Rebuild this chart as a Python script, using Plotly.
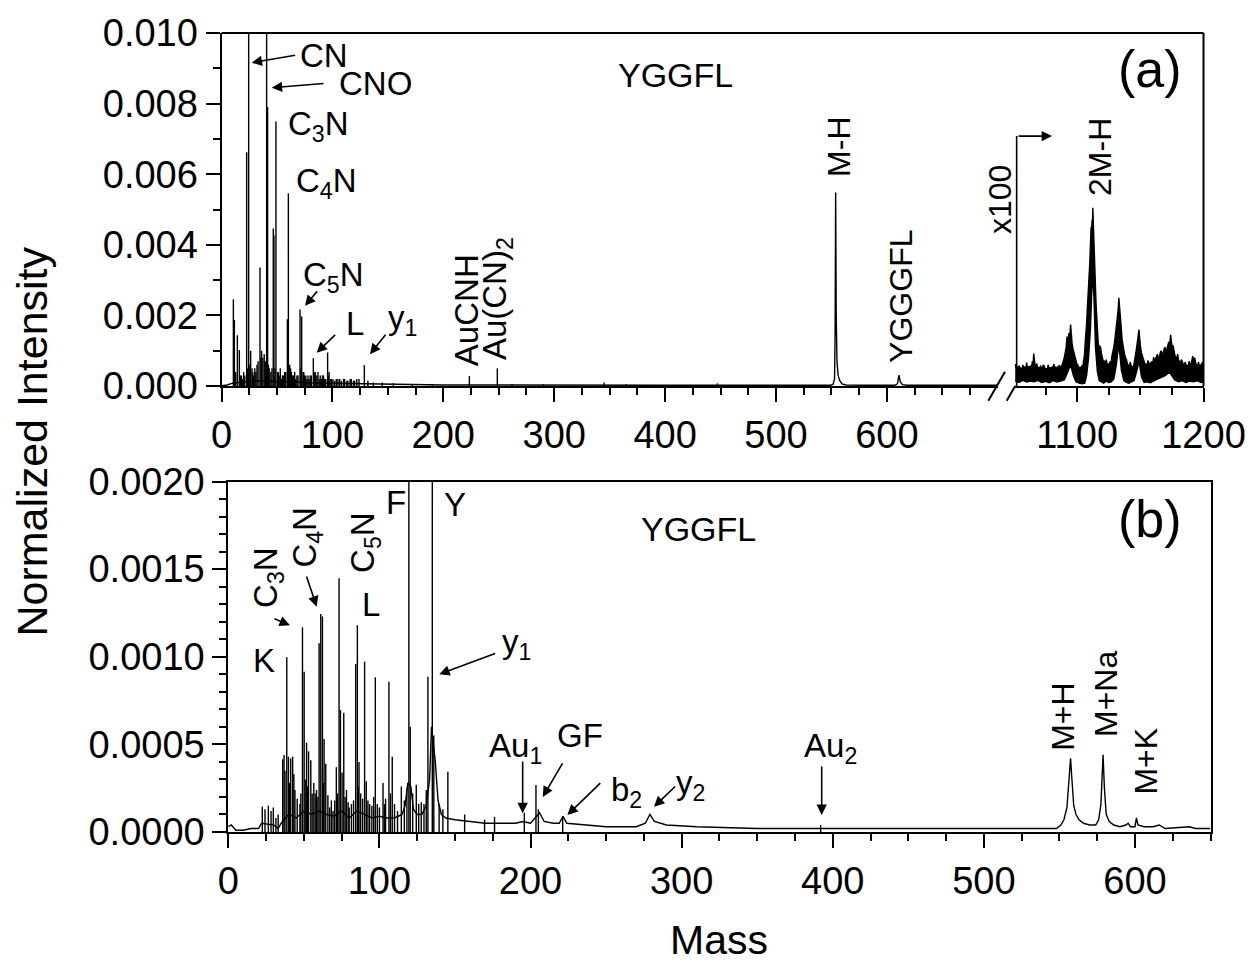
import plotly.graph_objects as go

FONT = "Liberation Sans, Arial, sans-serif"
W, H = 1255, 965

# ---------------- panel (a): negative ions ----------------
# discrete peaks (mass, normalized intensity)
a_peak_mass = [10.7, 11.6, 12.8, 14.3, 16.1, 17.2, 19.0, 21.0, 22.7, 24.5,
               26.3, 27.5, 29.0, 31.0, 33.0, 34.7, 36.2, 37.3, 38.5, 39.5,
               40.7, 41.6, 43.0, 44.5, 46.7, 47.3, 49.1, 50.5, 52.0, 54.0,
               56.0, 58.0, 59.4, 60.3, 61.5, 63.0, 65.0, 67.0, 69.0, 70.8,
               72.3, 73.5, 75.0, 77.0, 79.0, 81.0, 82.8, 84.5, 86.0, 88.0,
               90.0, 92.0, 94.0, 95.7, 97.0, 99.0, 102.0, 105.0, 108.0, 111.0,
               114.0, 117.0, 120.0, 124.0, 128.8, 132.0, 137.0, 145.0, 155.0, 172.0,
               190.0, 223.5, 248.7, 262.0, 290.0, 345.0, 365.0, 447.0]
a_peak_int = [0.00246, 0.00187, 0.0004, 0.00144, 0.00102, 0.0003, 0.0002, 0.0003, 0.00662, 0.02,
              0.00100, 0.0005, 0.0003, 0.0004, 0.0007, 0.00336, 0.0010, 0.0008, 0.0009, 0.0007,
              0.02, 0.0079, 0.0005, 0.0004, 0.00446, 0.00427, 0.00749, 0.0004, 0.0003, 0.0002,
              0.0003, 0.0004, 0.00189, 0.00546, 0.0006, 0.0004, 0.0003, 0.0002, 0.0003, 0.00217,
              0.00197, 0.0004, 0.0003, 0.0002, 0.0002, 0.0003, 0.00079, 0.0004, 0.0003, 0.0002,
              0.0002, 0.0003, 0.0002, 0.00095, 0.0004, 0.0002, 0.00015, 0.0002, 0.00015, 0.0002,
              0.00015, 0.0002, 0.00015, 0.0002, 0.00059, 0.00015, 0.0001, 0.0001, 0.00008, 0.00006,
              0.00006, 0.00028, 0.00050, 0.00006, 0.00005, 0.0001, 0.00006, 0.00008]
# low-level clutter below m/z 140
a_grass_mass = [18.0, 20.0, 23.5, 25.5, 28.2, 30.0, 32.0, 35.5, 42.3, 45.5,
                48.2, 51.2, 53.0, 55.0, 57.0, 62.3, 64.0, 66.0, 68.0, 71.5,
                74.2, 76.0, 78.0, 80.0, 83.6, 85.2, 87.0, 89.0, 91.0, 93.0,
                96.4, 98.0, 100.5, 103.5, 106.5, 110.0, 113.0, 116.0, 119.0, 122.0]
a_grass_int = [0.0003, 0.0004, 0.0005, 0.0006, 0.0004, 0.0005, 0.0006, 0.0008, 0.0006, 0.0005,
               0.0005, 0.0004, 0.0005, 0.0003, 0.0004, 0.0005, 0.0003, 0.0004, 0.0003, 0.0005,
               0.0004, 0.0003, 0.0003, 0.0003, 0.0004, 0.0003, 0.0004, 0.0003, 0.0003, 0.0002,
               0.0003, 0.0002, 0.0002, 0.0002, 0.0002, 0.0002, 0.00015, 0.0002, 0.00015, 0.0002]

# continuous profile (baseline, M-H and YGGGFL)
a_prof_mass = [0, 5, 10, 20, 30, 40, 50, 60, 70, 80,
               90, 100, 115, 130, 150, 175, 200, 250, 300, 400,
               500, 549, 551.5, 552.8, 553.3, 553.8, 554.3, 555, 556, 557.5,
               559.5, 563, 580, 607, 609.5, 610.9, 612, 614, 618, 650,
               672, 700]
a_prof_int = [0.00001, 0.00003, 0.00008, 0.00012, 0.00015, 0.00015, 0.00012, 0.00012, 0.0001, 0.0001,
              0.00008, 0.00008, 0.00007, 0.00006, 0.00005, 0.00004, 0.00003, 0.00003, 0.00002, 0.00002,
              0.00002, 0.00002, 0.00005, 0.0002, 0.0015, 0.00548, 0.002, 0.0007, 0.0003, 0.00015,
              0.00006, 0.00003, 0.00002, 0.00002, 0.00006, 0.00031, 0.00012, 0.00004, 0.00002, 0.00002,
              0.00004, 0.00002]

# high-mass window, shown x100: upper and lower edges of the noisy trace
hi_up_mass = [1051, 1051.8, 1052.5, 1053.3, 1054, 1054.8, 1055.5, 1056.3, 1057, 1057.8,
              1058.5, 1059.3, 1060, 1060.8, 1061.5, 1062.3, 1063, 1063.8, 1064.5, 1065.1,
              1065.6, 1066.2, 1066.8, 1067.4, 1068, 1068.8, 1069.5, 1070.3, 1071, 1071.8,
              1072.5, 1073.3, 1074, 1074.8, 1075.5, 1076.3, 1077, 1077.8, 1078.5, 1079.3,
              1080, 1080.8, 1081.5, 1082.3, 1083, 1083.8, 1084.5, 1085.3, 1086, 1086.8,
              1087.5, 1088.3, 1089, 1089.8, 1090.5, 1091.3, 1092, 1092.8, 1093.5, 1094.2,
              1094.8, 1095.4, 1096, 1096.7, 1097.4, 1098.2, 1099, 1099.8, 1100.5, 1101.3,
              1102, 1102.8, 1103.5, 1104.3, 1105, 1105.7, 1106.3, 1107, 1107.5, 1108.2,
              1108.8, 1109.4, 1110, 1110.5, 1111, 1111.4, 1111.8, 1112.1, 1112.4, 1112.8,
              1113.2, 1113.6, 1114, 1114.5, 1115, 1115.5, 1116, 1116.5, 1117, 1117.8,
              1118.6, 1119.3, 1120, 1120.8, 1121.5, 1122.3, 1123, 1123.8, 1124.5, 1125.3,
              1126, 1126.8, 1127.5, 1128.3, 1129, 1129.8, 1130.5, 1131.2, 1131.8, 1132.4,
              1133, 1133.5, 1134, 1134.5, 1135, 1135.6, 1136.3, 1136.9, 1137.5, 1138.3,
              1139, 1139.8, 1140.5, 1141.3, 1142, 1142.8, 1143.5, 1144.3, 1145, 1145.8,
              1146.5, 1147.2, 1147.8, 1148.4, 1148.9, 1149.5, 1150, 1150.8, 1151.5, 1152.3,
              1153, 1153.8, 1154.5, 1155.3, 1156, 1156.8, 1157.5, 1158.3, 1159, 1159.8,
              1160.5, 1161.3, 1162, 1162.8, 1163.5, 1164.3, 1165, 1165.8, 1166.5, 1167.3,
              1168, 1168.8, 1169.5, 1170.3, 1171, 1171.8, 1172.5, 1173.3, 1174, 1174.6,
              1175.3, 1175.9, 1176.5, 1177.3, 1178, 1178.8, 1179.5, 1180.3, 1181, 1181.8,
              1182.5, 1183.3, 1184, 1184.8, 1185.5, 1186.3, 1187, 1187.8, 1188.5, 1189.3,
              1190, 1190.8, 1191.5, 1192.3, 1193, 1193.8, 1194.5, 1195.3, 1196, 1196.8,
              1197.5, 1198.3, 1199, 1200]
hi_up_x100 = [0.00062, 0.00050, 0.00056, 0.00042, 0.00058, 0.00047, 0.00052, 0.00040, 0.00060, 0.00049,
              0.00055, 0.00044, 0.00066, 0.00050, 0.00056, 0.00046, 0.00058, 0.00050, 0.00070, 0.00060,
              0.00092, 0.00062, 0.00055, 0.00048, 0.00064, 0.00050, 0.00054, 0.00044, 0.00058, 0.00046,
              0.00052, 0.00060, 0.00056, 0.00045, 0.00050, 0.00042, 0.00060, 0.00048, 0.00053, 0.00046,
              0.00055, 0.00048, 0.00062, 0.00050, 0.00054, 0.00045, 0.00056, 0.00048, 0.00060, 0.00050,
              0.00054, 0.00060, 0.00070, 0.00080, 0.00095, 0.00110, 0.00140, 0.00130, 0.00150, 0.00145,
              0.00174, 0.00140, 0.00120, 0.00105, 0.00095, 0.00080, 0.00072, 0.00062, 0.00060, 0.00050,
              0.00054, 0.00046, 0.00058, 0.00050, 0.00070, 0.00085, 0.00120, 0.00150, 0.00180, 0.00230,
              0.00290, 0.00310, 0.00350, 0.00400, 0.00450, 0.00440, 0.00470, 0.00460, 0.00505, 0.00470,
              0.00440, 0.00400, 0.00320, 0.00280, 0.00230, 0.00190, 0.00150, 0.00120, 0.00100, 0.00115,
              0.00108, 0.00090, 0.00080, 0.00068, 0.00070, 0.00058, 0.00075, 0.00060, 0.00062, 0.00055,
              0.00070, 0.00062, 0.00085, 0.00095, 0.00110, 0.00130, 0.00150, 0.00175, 0.00200, 0.00215,
              0.00250, 0.00220, 0.00195, 0.00175, 0.00160, 0.00130, 0.00110, 0.00100, 0.00090, 0.00080,
              0.00075, 0.00062, 0.00060, 0.00052, 0.00068, 0.00056, 0.00055, 0.00048, 0.00070, 0.00080,
              0.00095, 0.00110, 0.00130, 0.00145, 0.00160, 0.00130, 0.00115, 0.00095, 0.00085, 0.00075,
              0.00070, 0.00060, 0.00062, 0.00054, 0.00072, 0.00060, 0.00058, 0.00066, 0.00068, 0.00060,
              0.00082, 0.00070, 0.00075, 0.00085, 0.00090, 0.00078, 0.00080, 0.00095, 0.00100, 0.00088,
              0.00092, 0.00105, 0.00110, 0.00095, 0.00105, 0.00115, 0.00125, 0.00120, 0.00145, 0.00125,
              0.00110, 0.00115, 0.00100, 0.00088, 0.00082, 0.00076, 0.00090, 0.00072, 0.00070, 0.00062,
              0.00075, 0.00064, 0.00062, 0.00056, 0.00068, 0.00058, 0.00058, 0.00052, 0.00070, 0.00060,
              0.00062, 0.00072, 0.00085, 0.00068, 0.00080, 0.00066, 0.00060, 0.00054, 0.00068, 0.00056,
              0.00058, 0.00064, 0.00066, 0.00060]
hi_lo_mass = [1051, 1054, 1057, 1060, 1063, 1066, 1069, 1072, 1075, 1078,
              1081, 1084, 1087, 1090, 1092.5, 1094.8, 1097, 1099, 1101.5, 1104,
              1106, 1107.5, 1109, 1110.5, 1111.5, 1112.4, 1113.3, 1114.5, 1116, 1117.5,
              1119, 1121, 1123, 1125, 1127, 1129, 1131, 1133, 1135, 1137,
              1139, 1141, 1143, 1145, 1147, 1149, 1151, 1153, 1155, 1158,
              1161, 1164, 1167, 1170, 1173, 1175, 1177, 1180, 1183, 1186,
              1189, 1192, 1195, 1198, 1200]
hi_lo_x100 = [0.00014, 0.00010, 0.00016, 0.00011, 0.00014, 0.00012, 0.00016, 0.00010, 0.00013, 0.00009,
              0.00015, 0.00011, 0.00014, 0.00018, 0.00040, 0.00060, 0.00030, 0.00012, 0.00008, 0.00006,
              0.00008, 0.00030, 0.00080, 0.00160, 0.00260, 0.00320, 0.00250, 0.00110, 0.00040, 0.00015,
              0.00012, 0.00008, 0.00014, 0.00010, 0.00012, 0.00020, 0.00060, 0.00120, 0.00045, 0.00015,
              0.00010, 0.00008, 0.00012, 0.00015, 0.00040, 0.00070, 0.00025, 0.00010, 0.00012, 0.00009,
              0.00015, 0.00020, 0.00025, 0.00030, 0.00040, 0.00030, 0.00018, 0.00012, 0.00015, 0.00010,
              0.00014, 0.00012, 0.00015, 0.00010, 0.00012]

# ---------------- panel (b): positive ions ----------------
b_peak_mass = [22.5, 24.3, 26.5, 28.3, 29.8, 36.0, 36.9, 38.7, 39.8, 41.3,
               42.6, 44.1, 47.4, 49.1, 50.2, 51.8, 53.1, 54.6, 56.6, 58.4,
               60.1, 61.2, 62.3, 63.4, 64.5, 67.1, 69.3, 71.5, 73.3, 74.2,
               75.3, 76.4, 78.2, 81.5, 84.3, 85.4, 86.5, 87.6, 90.2, 91.3,
               93.5, 97.3, 98.6, 102.4, 104.1, 106.3, 108.5, 110.0, 114.5, 119.5,
               120.4, 124.4, 127.7, 132.1, 135.0, 136.0, 145.3, 156.4, 169.6, 176.2,
               195.9, 203.6, 205.2, 221.3, 392.0]
b_peak_int = [0.000145, 0.00013, 0.00015, 0.00012, 0.00014, 0.000415, 0.00044, 0.000997, 0.00043, 0.00042,
              0.00043, 0.00024, 0.00016, 0.001168, 0.000915, 0.00051, 0.00046, 0.00041, 0.00028, 0.00024,
              0.001077, 0.001244, 0.00123, 0.00053, 0.00039, 0.00014, 0.00012, 0.00037, 0.001448, 0.000696,
              0.00034, 0.00068, 0.00024, 0.00016, 0.000959, 0.00118, 0.0004, 0.00022, 0.000972, 0.00029,
              0.00016, 0.000883, 0.00016, 0.00028, 0.00019, 0.000858, 0.00043, 0.00016, 0.00026, 0.004,
              0.0006, 0.00027, 0.00017, 0.000886, 0.004, 0.00055, 0.000344, 0.0001, 0.00007, 0.000087,
              0.00011, 0.000268, 0.00013, 0.000087, 0.00004]
# low-level fragments filling the 20-140 region
b_grass_mass = [31.5, 33.0, 37.5, 40.5, 43.4, 45.6, 48.0, 50.9, 52.4, 55.5,
                57.5, 59.3, 63.0, 65.9, 68.2, 70.4, 72.4, 77.3, 79.3, 80.0,
                82.9, 86.0, 88.9, 92.4, 95.0, 96.2, 100.0, 103.3, 107.3, 112.0,
                116.5, 118.2, 122.0, 126.0, 129.5, 131.0, 139.5, 142.0]
b_grass_int = [0.00008, 0.0001, 0.00035, 0.00028, 0.00033, 0.00019, 0.00022, 0.0003, 0.00026, 0.00022,
               0.00022, 0.0002, 0.00028, 0.00021, 0.00018, 0.00018, 0.00022, 0.0002, 0.00017, 0.00014,
               0.00018, 0.00026, 0.00019, 0.00018, 0.00015, 0.0002, 0.00014, 0.00016, 0.00022, 0.00012,
               0.00018, 0.00025, 0.00022, 0.00016, 0.00016, 0.00024, 0.00016, 0.00013]

b_prof_mass = [0, 2, 5, 10, 15, 20, 22, 30, 33, 35,
               40, 45, 50, 55, 60, 65, 70, 75, 80, 85,
               90, 95, 100, 105, 110, 115, 117, 118.8, 120.8, 122.5,
               125, 128, 131, 133.2, 134.5, 137, 138.8, 141, 144, 150,
               160, 170, 180, 190, 195, 200, 203, 206, 209, 215,
               219, 221.5, 224, 235, 250, 270, 276, 279, 282, 290,
               310, 350, 390, 394, 450, 500, 540, 548, 551, 553,
               555, 556.5, 557.4, 558.3, 559.5, 561, 563, 566, 570, 574,
               576, 577.5, 578.9, 579.8, 581, 583, 586, 590, 594, 595.5,
               597, 600, 601, 602, 606, 612, 616, 620, 636, 640,
               650]
b_prof_int = [0.00003, 0.00004, 0.00001, 0.00001, 0.00002, 0.00002, 0.00005, 0.00004, 0.00002, 0.00005,
              0.0001, 0.00008, 0.00012, 0.0001, 0.00012, 0.0001, 0.00009, 0.00012, 0.00008, 0.00012,
              0.0001, 0.00008, 0.00009, 0.00008, 0.00008, 0.0001, 0.00015, 0.00028, 0.00026, 0.00013,
              0.0001, 0.0001, 0.00015, 0.0003, 0.0006, 0.0004, 0.00018, 0.0001, 0.00008, 0.00007,
              0.00006, 0.00005, 0.00005, 0.00005, 0.00006, 0.00005, 0.00008, 0.00011, 0.00006, 0.00005,
              0.00005, 0.00009, 0.00005, 0.00004, 0.00003, 0.00003, 0.00005, 0.0001, 0.00006, 0.00004,
              0.00003, 0.00002, 0.00002, 0.00002, 0.00002, 0.00002, 0.00002, 0.00002, 0.00004, 0.00007,
              0.00014, 0.0003, 0.00042, 0.0003, 0.00015, 0.0001, 0.00007, 0.00005, 0.00004, 0.00004,
              0.00007, 0.00016, 0.00044, 0.00025, 0.0001, 0.00006, 0.00004, 0.00003, 0.00004, 0.00005,
              0.00003, 0.00003, 0.00008, 0.00004, 0.00003, 0.00003, 0.00004, 0.00002, 0.00003, 0.00002,
              0.00002]

a_yticks = [0.0, 0.002, 0.004, 0.006, 0.008, 0.010]
b_yticks = [0.0, 0.0005, 0.0010, 0.0015, 0.0020]
mass_ticks = [0, 100, 200, 300, 400, 500, 600]


def px(x):
    return x / W


def py(y):
    return 1 - y / H


def sticks(masses, heights):
    xs, ys = [], []
    for m, h in zip(masses, heights):
        xs += [m, m, None]
        ys += [0, h, None]
    return xs, ys


LINE = dict(color="black", width=1.4)
fig = go.Figure()

for mm, ii in ((a_peak_mass, a_peak_int), (a_grass_mass, a_grass_int)):
    xs, ys = sticks(mm, ii)
    fig.add_trace(go.Scatter(x=xs, y=ys, mode="lines", line=LINE, xaxis="x", yaxis="y"))
fig.add_trace(go.Scatter(x=a_prof_mass, y=a_prof_int, mode="lines", line=LINE, xaxis="x", yaxis="y"))
fig.add_trace(go.Scatter(x=hi_lo_mass, y=hi_lo_x100, mode="lines", line=LINE, xaxis="x2", yaxis="y"))
fig.add_trace(go.Scatter(x=hi_up_mass, y=hi_up_x100, mode="lines", line=LINE, fill="tonexty",
                         fillcolor="black", xaxis="x2", yaxis="y"))

for mm, ii in ((b_peak_mass, b_peak_int), (b_grass_mass, b_grass_int)):
    xs, ys = sticks(mm, ii)
    fig.add_trace(go.Scatter(x=xs, y=ys, mode="lines", line=LINE, xaxis="x3", yaxis="y2"))
fig.add_trace(go.Scatter(x=b_prof_mass, y=b_prof_int, mode="lines", line=LINE, xaxis="x3", yaxis="y2"))

TICKFONT = dict(family=FONT, size=38, color="black")


def axis_style(**kw):
    d = dict(showline=True, linecolor="black", linewidth=2, ticks="outside", ticklen=14,
             tickwidth=2, tickcolor="black", showgrid=False, zeroline=False,
             tickfont=TICKFONT, tickmode="array", automargin=False, fixedrange=True)
    d.update(kw)
    return d


def minor(vals):
    return dict(tickmode="array", tickvals=vals, ticks="outside", ticklen=7,
                tickwidth=2, tickcolor="black", showgrid=False)


a_minor_x = [v for v in range(25, 700, 25) if v % 100 != 0]
b_minor_x = [v for v in range(25, 651, 25) if v % 100 != 0]

fig.update_layout(
    width=W, height=H, margin=dict(l=0, r=0, t=0, b=0),
    paper_bgcolor="white", plot_bgcolor="white", showlegend=False,
    font=dict(family=FONT, color="black"),
    xaxis=axis_style(domain=[px(221.5), px(997.8)], range=[0, 700], anchor="y",
                     tickvals=mass_ticks, ticktext=[str(v) for v in mass_ticks],
                     minor=minor(a_minor_x)),
    xaxis2=axis_style(domain=[px(1014), px(1203.5)], range=[1050, 1200], anchor="y",
                      tickvals=[1100, 1200], ticktext=["1100", "1200"],
                      minor=minor([1075, 1125, 1150, 1175])),
    yaxis=axis_style(domain=[py(386), py(33)], range=[0, 0.010], anchor="x",
                     tickvals=a_yticks, ticktext=["%.3f" % v for v in a_yticks],
                     minor=minor([0.001, 0.003, 0.005, 0.007, 0.009])),
    xaxis3=axis_style(domain=[px(228.3), px(1210.5)], range=[0, 650], anchor="y2", mirror=True,
                      tickvals=mass_ticks, ticktext=[str(v) for v in mass_ticks],
                      minor=minor(b_minor_x)),
    yaxis2=axis_style(domain=[py(832), py(481.5)], range=[0, 0.0020], anchor="x3", mirror=True,
                      tickvals=b_yticks, ticktext=["%.4f" % v for v in b_yticks],
                      minor=minor([i * 0.0001 for i in range(1, 20) if i % 5 != 0])),
)

# frame of the broken panel and the axis-break marks
BL = dict(color="black", width=2)
fig.add_shape(type="line", xref="paper", yref="paper", x0=px(221.5), x1=px(1203.5),
              y0=py(33), y1=py(33), line=BL)
fig.add_shape(type="line", xref="paper", yref="paper", x0=px(1203.5), x1=px(1203.5),
              y0=py(33), y1=py(386), line=BL)
fig.add_shape(type="line", xref="paper", yref="paper", x0=px(988.3), x1=px(1005),
              y0=py(400.7), y1=py(371.7), line=BL)
fig.add_shape(type="line", xref="paper", yref="paper", x0=px(1006.7), x1=px(1015.3),
              y0=py(400.7), y1=py(385.7), line=BL)
# x100 marker
fig.add_shape(type="line", xref="x2", yref="y", x0=1052.1, x1=1052.1, y0=0, y1=0.00708,
              line=dict(color="black", width=1.6))

ann = []


def label(text, x, y, xref, yref, size=33, angle=0):
    ann.append(dict(text=text, x=x, y=y, xref=xref, yref=yref, showarrow=False,
                    textangle=angle, xanchor="center", yanchor="middle",
                    font=dict(family=FONT, size=size, color="black")))


def arrow(x, y, ax, ay, xref, yref):
    ann.append(dict(text="", x=x, y=y, ax=ax, ay=ay, xref=xref, yref=yref, showarrow=True,
                    arrowhead=2, arrowsize=1.3, arrowwidth=1.6, arrowcolor="black", standoff=0,
                    font=dict(family=FONT, size=10, color="black")))


# panel (a) labels
label("CN", 92, 0.00936, "x", "y")
arrow(27.2, 0.00916, 45, -7.7, "x", "y")
label("CNO", 138.9, 0.00856, "x", "y")
arrow(45.3, 0.00845, 53.3, -4.4, "x", "y")
label("C<sub>3</sub>N", 87.9, 0.00737, "x", "y")
label("C<sub>4</sub>N", 95.1, 0.00575, "x", "y")
label("C<sub>5</sub>N", 101.4, 0.00309, "x", "y")
arrow(75.3, 0.00227, 13.3, -16, "x", "y")
label("L", 120.4, 0.00178, "x", "y")
arrow(85.8, 0.00094, 20, -19.4, "x", "y")
label("y<sub>1</sub>", 162.8, 0.00187, "x", "y")
arrow(133.9, 0.0009, 16.7, -21, "x", "y")
label("AuCNH", 220.5, 0.00215, "x", "y", angle=-90)
label("Au(CN)<sub>2</sub>", 248.4, 0.00249, "x", "y", angle=-90)
label("YGGFL", 409.8, 0.00881, "x", "y", size=34)
label("M-H", 557.3, 0.00676, "x", "y", size=32, angle=-90)
label("YGGGFL", 613.2, 0.00254, "x", "y", size=32, angle=-90)
label("x100", px(1000), py(200), "paper", "paper", size=32, angle=-90)
label("2M-H", 1118.1, 0.00649, "x2", "y", size=32, angle=-90)
arrow(1080.1, 0.00708, -35, 0, "x2", "y")
label("(a)", px(1150), py(69), "paper", "paper", size=52)

# panel (b) labels
label("F", 111, 0.00188, "x3", "y2")
label("Y", 150, 0.00187, "x3", "y2")
label("C<sub>5</sub>N", 90.5, 0.00165, "x3", "y2", angle=-90)
label("C<sub>4</sub>N", 52.1, 0.00168, "x3", "y2", angle=-90)
arrow(58.5, 0.001286, -10.7, -31.7, "x3", "y2")
label("C<sub>3</sub>N", 26.3, 0.00145, "x3", "y2", angle=-90)
arrow(40.8, 0.00118, -17, -7, "x3", "y2")
label("K", 23.6, 0.00098, "x3", "y2")
label("L", 94.4, 0.0013, "x3", "y2")
label("y<sub>1</sub>", 190.9, 0.00107, "x3", "y2")
arrow(139.6, 0.0009, 57.4, -21.3, "x3", "y2")
label("YGGFL", 310.9, 0.00173, "x3", "y2", size=34)
label("Au<sub>1</sub>", 189.8, 0.00048, "x3", "y2")
arrow(194.8, 0.000107, 0, -53.3, "x3", "y2")
label("GF", 232.8, 0.00055, "x3", "y2")
arrow(208.1, 0.0002, 20.6, -35, "x3", "y2")
label("b<sub>2</sub>", 263.3, 0.00023, "x3", "y2")
arrow(224.4, 0.000097, 34.4, -33.3, "x3", "y2")
label("y<sub>2</sub>", 305.6, 0.00027, "x3", "y2")
arrow(281.7, 0.000144, 22.7, -21.7, "x3", "y2")
label("Au<sub>2</sub>", 398.7, 0.00048, "x3", "y2")
arrow(392.7, 0.000097, 0, -50, "x3", "y2")
label("M+H", 552.7, 0.00066, "x3", "y2", size=32, angle=-90)
label("M+Na", 580.5, 0.00079, "x3", "y2", size=32, angle=-90)
label("M+K", 607, 0.000405, "x3", "y2", size=32, angle=-90)
label("(b)", px(1150), py(519), "paper", "paper", size=52)

# shared axis titles
label("Normalized Intensity", px(31), py(441.5), "paper", "paper", size=43, angle=-90)
label("Mass", px(719), py(940), "paper", "paper", size=41)

fig.update_layout(annotations=ann)
fig.write_html("out.html")
